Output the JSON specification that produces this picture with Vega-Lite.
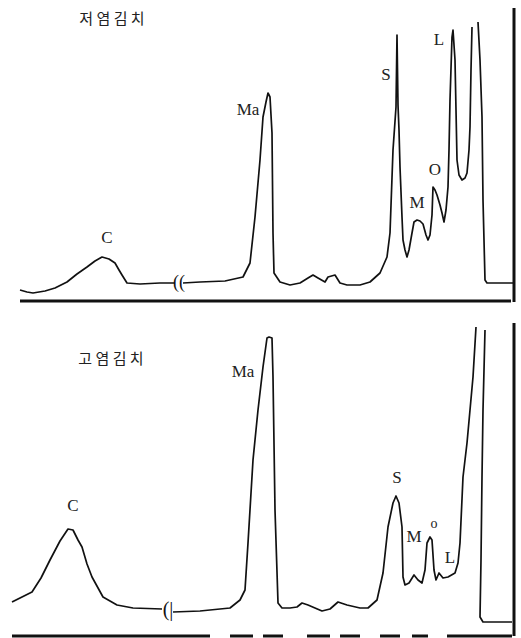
{
  "$schema": "https://vega.github.io/schema/vega-lite/v6.json",
  "padding": 0,
  "spacing": 0,
  "background": "white",
  "config": {"view": {"stroke": null}},
  "datasets": {
    "topTrace": [
      {"seg": "a", "t": 20, "v": 11}, {"seg": "a", "t": 27, "v": 9}, {"seg": "a", "t": 33, "v": 8}, {"seg": "a", "t": 45, "v": 10},
      {"seg": "a", "t": 55, "v": 13}, {"seg": "a", "t": 67, "v": 19}, {"seg": "a", "t": 77, "v": 27}, {"seg": "a", "t": 87, "v": 34},
      {"seg": "a", "t": 95, "v": 40}, {"seg": "a", "t": 102, "v": 44}, {"seg": "a", "t": 109, "v": 42}, {"seg": "a", "t": 115, "v": 38},
      {"seg": "a", "t": 119, "v": 31}, {"seg": "a", "t": 122, "v": 26}, {"seg": "a", "t": 127, "v": 18}, {"seg": "a", "t": 140, "v": 17},
      {"seg": "a", "t": 160, "v": 18}, {"seg": "a", "t": 175, "v": 18},
      {"seg": "b", "t": 183, "v": 18}, {"seg": "b", "t": 200, "v": 19}, {"seg": "b", "t": 225, "v": 20}, {"seg": "b", "t": 243, "v": 24},
      {"seg": "b", "t": 250, "v": 38}, {"seg": "b", "t": 255, "v": 84}, {"seg": "b", "t": 260, "v": 141}, {"seg": "b", "t": 263, "v": 184},
      {"seg": "b", "t": 266, "v": 199}, {"seg": "b", "t": 268, "v": 208}, {"seg": "b", "t": 270, "v": 204}, {"seg": "b", "t": 272, "v": 168},
      {"seg": "b", "t": 273, "v": 68}, {"seg": "b", "t": 274, "v": 28}, {"seg": "b", "t": 280, "v": 19}, {"seg": "b", "t": 290, "v": 16},
      {"seg": "b", "t": 300, "v": 18}, {"seg": "b", "t": 308, "v": 23}, {"seg": "b", "t": 313, "v": 26}, {"seg": "b", "t": 318, "v": 23},
      {"seg": "b", "t": 325, "v": 19}, {"seg": "b", "t": 328, "v": 24}, {"seg": "b", "t": 335, "v": 26}, {"seg": "b", "t": 340, "v": 18},
      {"seg": "b", "t": 347, "v": 16}, {"seg": "b", "t": 360, "v": 16}, {"seg": "b", "t": 370, "v": 19}, {"seg": "b", "t": 380, "v": 28},
      {"seg": "b", "t": 387, "v": 44}, {"seg": "b", "t": 390, "v": 68}, {"seg": "b", "t": 393, "v": 151}, {"seg": "b", "t": 396, "v": 194},
      {"seg": "b", "t": 397, "v": 266}, {"seg": "b", "t": 398, "v": 196}, {"seg": "b", "t": 399, "v": 171}, {"seg": "b", "t": 400, "v": 134},
      {"seg": "b", "t": 402, "v": 84}, {"seg": "b", "t": 403, "v": 61}, {"seg": "b", "t": 405, "v": 51}, {"seg": "b", "t": 407, "v": 44},
      {"seg": "b", "t": 409, "v": 51}, {"seg": "b", "t": 412, "v": 68}, {"seg": "b", "t": 414, "v": 79}, {"seg": "b", "t": 417, "v": 81},
      {"seg": "b", "t": 420, "v": 80}, {"seg": "b", "t": 423, "v": 77}, {"seg": "b", "t": 426, "v": 66}, {"seg": "b", "t": 428, "v": 61},
      {"seg": "b", "t": 430, "v": 66}, {"seg": "b", "t": 432, "v": 86}, {"seg": "b", "t": 433, "v": 114}, {"seg": "b", "t": 435, "v": 111},
      {"seg": "b", "t": 437, "v": 106}, {"seg": "b", "t": 440, "v": 96}, {"seg": "b", "t": 442, "v": 88}, {"seg": "b", "t": 444, "v": 79},
      {"seg": "b", "t": 446, "v": 91}, {"seg": "b", "t": 448, "v": 114}, {"seg": "b", "t": 449, "v": 151}, {"seg": "b", "t": 450, "v": 201},
      {"seg": "b", "t": 452, "v": 264}, {"seg": "b", "t": 453, "v": 271}, {"seg": "b", "t": 455, "v": 241}, {"seg": "b", "t": 456, "v": 191},
      {"seg": "b", "t": 457, "v": 141}, {"seg": "b", "t": 459, "v": 126}, {"seg": "b", "t": 462, "v": 121}, {"seg": "b", "t": 465, "v": 123},
      {"seg": "b", "t": 467, "v": 128}, {"seg": "b", "t": 469, "v": 151}, {"seg": "b", "t": 470, "v": 174}, {"seg": "b", "t": 471, "v": 231},
      {"seg": "b", "t": 472, "v": 274},
      {"seg": "c", "t": 478, "v": 279}, {"seg": "c", "t": 480, "v": 241}, {"seg": "c", "t": 482, "v": 184}, {"seg": "c", "t": 483, "v": 101},
      {"seg": "c", "t": 485, "v": 21}, {"seg": "c", "t": 487, "v": 18}, {"seg": "c", "t": 513, "v": 18}
    ],
    "bottomTrace": [
      {"seg": "a", "t": 12, "v": 34}, {"seg": "a", "t": 20, "v": 38}, {"seg": "a", "t": 32, "v": 44}, {"seg": "a", "t": 41, "v": 58},
      {"seg": "a", "t": 50, "v": 76}, {"seg": "a", "t": 60, "v": 95}, {"seg": "a", "t": 68, "v": 107}, {"seg": "a", "t": 73, "v": 106},
      {"seg": "a", "t": 78, "v": 96}, {"seg": "a", "t": 82, "v": 89}, {"seg": "a", "t": 87, "v": 72}, {"seg": "a", "t": 92, "v": 59},
      {"seg": "a", "t": 103, "v": 39}, {"seg": "a", "t": 117, "v": 31}, {"seg": "a", "t": 133, "v": 28}, {"seg": "a", "t": 162, "v": 27},
      {"seg": "b", "t": 173, "v": 24}, {"seg": "b", "t": 200, "v": 25}, {"seg": "b", "t": 230, "v": 28}, {"seg": "b", "t": 240, "v": 36},
      {"seg": "b", "t": 245, "v": 46}, {"seg": "b", "t": 248, "v": 93}, {"seg": "b", "t": 253, "v": 176}, {"seg": "b", "t": 258, "v": 226},
      {"seg": "b", "t": 263, "v": 269}, {"seg": "b", "t": 267, "v": 298}, {"seg": "b", "t": 269, "v": 299}, {"seg": "b", "t": 272, "v": 298},
      {"seg": "b", "t": 273, "v": 259}, {"seg": "b", "t": 275, "v": 126}, {"seg": "b", "t": 278, "v": 33}, {"seg": "b", "t": 282, "v": 28},
      {"seg": "b", "t": 290, "v": 28}, {"seg": "b", "t": 297, "v": 29}, {"seg": "b", "t": 302, "v": 33}, {"seg": "b", "t": 308, "v": 31},
      {"seg": "b", "t": 322, "v": 25}, {"seg": "b", "t": 330, "v": 27}, {"seg": "b", "t": 338, "v": 34}, {"seg": "b", "t": 347, "v": 31},
      {"seg": "b", "t": 360, "v": 28}, {"seg": "b", "t": 368, "v": 28}, {"seg": "b", "t": 377, "v": 36}, {"seg": "b", "t": 383, "v": 63},
      {"seg": "b", "t": 388, "v": 109}, {"seg": "b", "t": 393, "v": 133}, {"seg": "b", "t": 396, "v": 140}, {"seg": "b", "t": 399, "v": 133},
      {"seg": "b", "t": 402, "v": 109}, {"seg": "b", "t": 403, "v": 59}, {"seg": "b", "t": 405, "v": 51}, {"seg": "b", "t": 409, "v": 53},
      {"seg": "b", "t": 414, "v": 61}, {"seg": "b", "t": 418, "v": 56}, {"seg": "b", "t": 422, "v": 53}, {"seg": "b", "t": 425, "v": 66},
      {"seg": "b", "t": 427, "v": 93}, {"seg": "b", "t": 430, "v": 99}, {"seg": "b", "t": 432, "v": 96}, {"seg": "b", "t": 434, "v": 66},
      {"seg": "b", "t": 436, "v": 56}, {"seg": "b", "t": 439, "v": 63}, {"seg": "b", "t": 443, "v": 58}, {"seg": "b", "t": 448, "v": 59},
      {"seg": "b", "t": 455, "v": 63}, {"seg": "b", "t": 458, "v": 73}, {"seg": "b", "t": 460, "v": 93}, {"seg": "b", "t": 463, "v": 159},
      {"seg": "b", "t": 467, "v": 193}, {"seg": "b", "t": 470, "v": 226}, {"seg": "b", "t": 473, "v": 259}, {"seg": "b", "t": 476, "v": 309},
      {"seg": "c", "t": 485, "v": 306}, {"seg": "c", "t": 484, "v": 266}, {"seg": "c", "t": 483, "v": 226}, {"seg": "c", "t": 482, "v": 159},
      {"seg": "c", "t": 481, "v": 76}, {"seg": "c", "t": 480, "v": 19}, {"seg": "c", "t": 483, "v": 14}, {"seg": "c", "t": 512, "v": 14}
    ],
    "topTitle": [{"t": 112, "v": 282, "label": "저 염 김 치"}],
    "topLabels": [
      {"t": 107, "v": 63, "label": "C"},
      {"t": 248, "v": 191, "label": "Ma"},
      {"t": 386, "v": 226, "label": "S"},
      {"t": 417, "v": 98, "label": "M"},
      {"t": 435, "v": 131, "label": "O"},
      {"t": 439, "v": 261, "label": "L"}
    ],
    "bottomTitle": [{"t": 111, "v": 277, "label": "고 염 김 치"}],
    "bottomLabels": [
      {"t": 73, "v": 130, "label": "C"},
      {"t": 243, "v": 264, "label": "Ma"},
      {"t": 397, "v": 158, "label": "S"},
      {"t": 414, "v": 99, "label": "M"},
      {"t": 450, "v": 78, "label": "L"}
    ],
    "bottomSmall": [{"t": 434, "v": 112, "label": "o"}],
    "topFrame": [
      {"t": 20, "t2": 511, "v": 0, "v2": 0},
      {"t": 514, "t2": 514, "v": -1, "v2": 293}
    ],
    "bottomFrame": [
      {"t": 12, "t2": 210, "v": 0, "v2": 0},
      {"t": 230, "t2": 253, "v": 0, "v2": 0},
      {"t": 263, "t2": 283, "v": 0, "v2": 0},
      {"t": 307, "t2": 330, "v": 0, "v2": 0},
      {"t": 340, "t2": 360, "v": 0, "v2": 0},
      {"t": 380, "t2": 400, "v": 0, "v2": 0},
      {"t": 412, "t2": 428, "v": 0, "v2": 0},
      {"t": 447, "t2": 512, "v": 0, "v2": 0},
      {"t": 514, "t2": 514, "v": 0, "v2": 313}
    ],
    "topBreak": [{"t": 179, "v": 18, "label": "(("}],
    "bottomBreak": [{"t": 168, "v": 26, "label": "(|"}]
  },
  "vconcat": [
    {
      "width": 521,
      "height": 310,
      "layer": [
        {
          "data": {"name": "topFrame"},
          "mark": {"type": "rule", "color": "#111", "strokeWidth": 3},
          "encoding": {
            "x": {"field": "t", "type": "quantitative", "scale": {"domain": [0, 521], "nice": false, "zero": false}, "axis": null},
            "x2": {"field": "t2"},
            "y": {"field": "v", "type": "quantitative", "scale": {"domain": [-9, 301], "nice": false, "zero": false}, "axis": null},
            "y2": {"field": "v2"}
          }
        },
        {
          "data": {"name": "topTrace"},
          "transform": [{"window": [{"op": "row_number", "as": "i"}]}],
          "mark": {"type": "line", "color": "#111", "strokeWidth": 1.7, "strokeJoin": "round"},
          "encoding": {
            "x": {"field": "t", "type": "quantitative"},
            "y": {"field": "v", "type": "quantitative"},
            "detail": {"field": "seg"},
            "order": {"field": "i", "type": "quantitative"}
          }
        },
        {
          "data": {"name": "topBreak"},
          "mark": {"type": "text", "font": "Liberation Serif", "fontSize": 18, "color": "#111", "baseline": "middle", "align": "center"},
          "encoding": {
            "x": {"field": "t", "type": "quantitative"},
            "y": {"field": "v", "type": "quantitative"},
            "text": {"field": "label"}
          }
        },
        {
          "data": {"name": "topTitle"},
          "mark": {"type": "text", "font": "Noto Sans CJK KR", "fontSize": 15, "color": "#222", "baseline": "middle", "align": "center"},
          "encoding": {
            "x": {"field": "t", "type": "quantitative"},
            "y": {"field": "v", "type": "quantitative"},
            "text": {"field": "label"}
          }
        },
        {
          "data": {"name": "topLabels"},
          "mark": {"type": "text", "font": "Liberation Serif", "fontSize": 17, "color": "#222", "baseline": "middle", "align": "center"},
          "encoding": {
            "x": {"field": "t", "type": "quantitative"},
            "y": {"field": "v", "type": "quantitative"},
            "text": {"field": "label"}
          }
        }
      ]
    },
    {
      "width": 521,
      "height": 328,
      "layer": [
        {
          "data": {"name": "bottomFrame"},
          "mark": {"type": "rule", "color": "#111", "strokeWidth": 3},
          "encoding": {
            "x": {"field": "t", "type": "quantitative", "scale": {"domain": [0, 521], "nice": false, "zero": false}, "axis": null},
            "x2": {"field": "t2"},
            "y": {"field": "v", "type": "quantitative", "scale": {"domain": [-2, 326], "nice": false, "zero": false}, "axis": null},
            "y2": {"field": "v2"}
          }
        },
        {
          "data": {"name": "bottomTrace"},
          "transform": [{"window": [{"op": "row_number", "as": "i"}]}],
          "mark": {"type": "line", "color": "#111", "strokeWidth": 1.7, "strokeJoin": "round"},
          "encoding": {
            "x": {"field": "t", "type": "quantitative"},
            "y": {"field": "v", "type": "quantitative"},
            "detail": {"field": "seg"},
            "order": {"field": "i", "type": "quantitative"}
          }
        },
        {
          "data": {"name": "bottomBreak"},
          "mark": {"type": "text", "font": "Liberation Serif", "fontSize": 20, "color": "#111", "baseline": "middle", "align": "center"},
          "encoding": {
            "x": {"field": "t", "type": "quantitative"},
            "y": {"field": "v", "type": "quantitative"},
            "text": {"field": "label"}
          }
        },
        {
          "data": {"name": "bottomTitle"},
          "mark": {"type": "text", "font": "Noto Sans CJK KR", "fontSize": 15, "color": "#222", "baseline": "middle", "align": "center"},
          "encoding": {
            "x": {"field": "t", "type": "quantitative"},
            "y": {"field": "v", "type": "quantitative"},
            "text": {"field": "label"}
          }
        },
        {
          "data": {"name": "bottomLabels"},
          "mark": {"type": "text", "font": "Liberation Serif", "fontSize": 17, "color": "#222", "baseline": "middle", "align": "center"},
          "encoding": {
            "x": {"field": "t", "type": "quantitative"},
            "y": {"field": "v", "type": "quantitative"},
            "text": {"field": "label"}
          }
        },
        {
          "data": {"name": "bottomSmall"},
          "mark": {"type": "text", "font": "Liberation Serif", "fontSize": 14, "color": "#222", "baseline": "middle", "align": "center"},
          "encoding": {
            "x": {"field": "t", "type": "quantitative"},
            "y": {"field": "v", "type": "quantitative"},
            "text": {"field": "label"}
          }
        }
      ]
    }
  ]
}
